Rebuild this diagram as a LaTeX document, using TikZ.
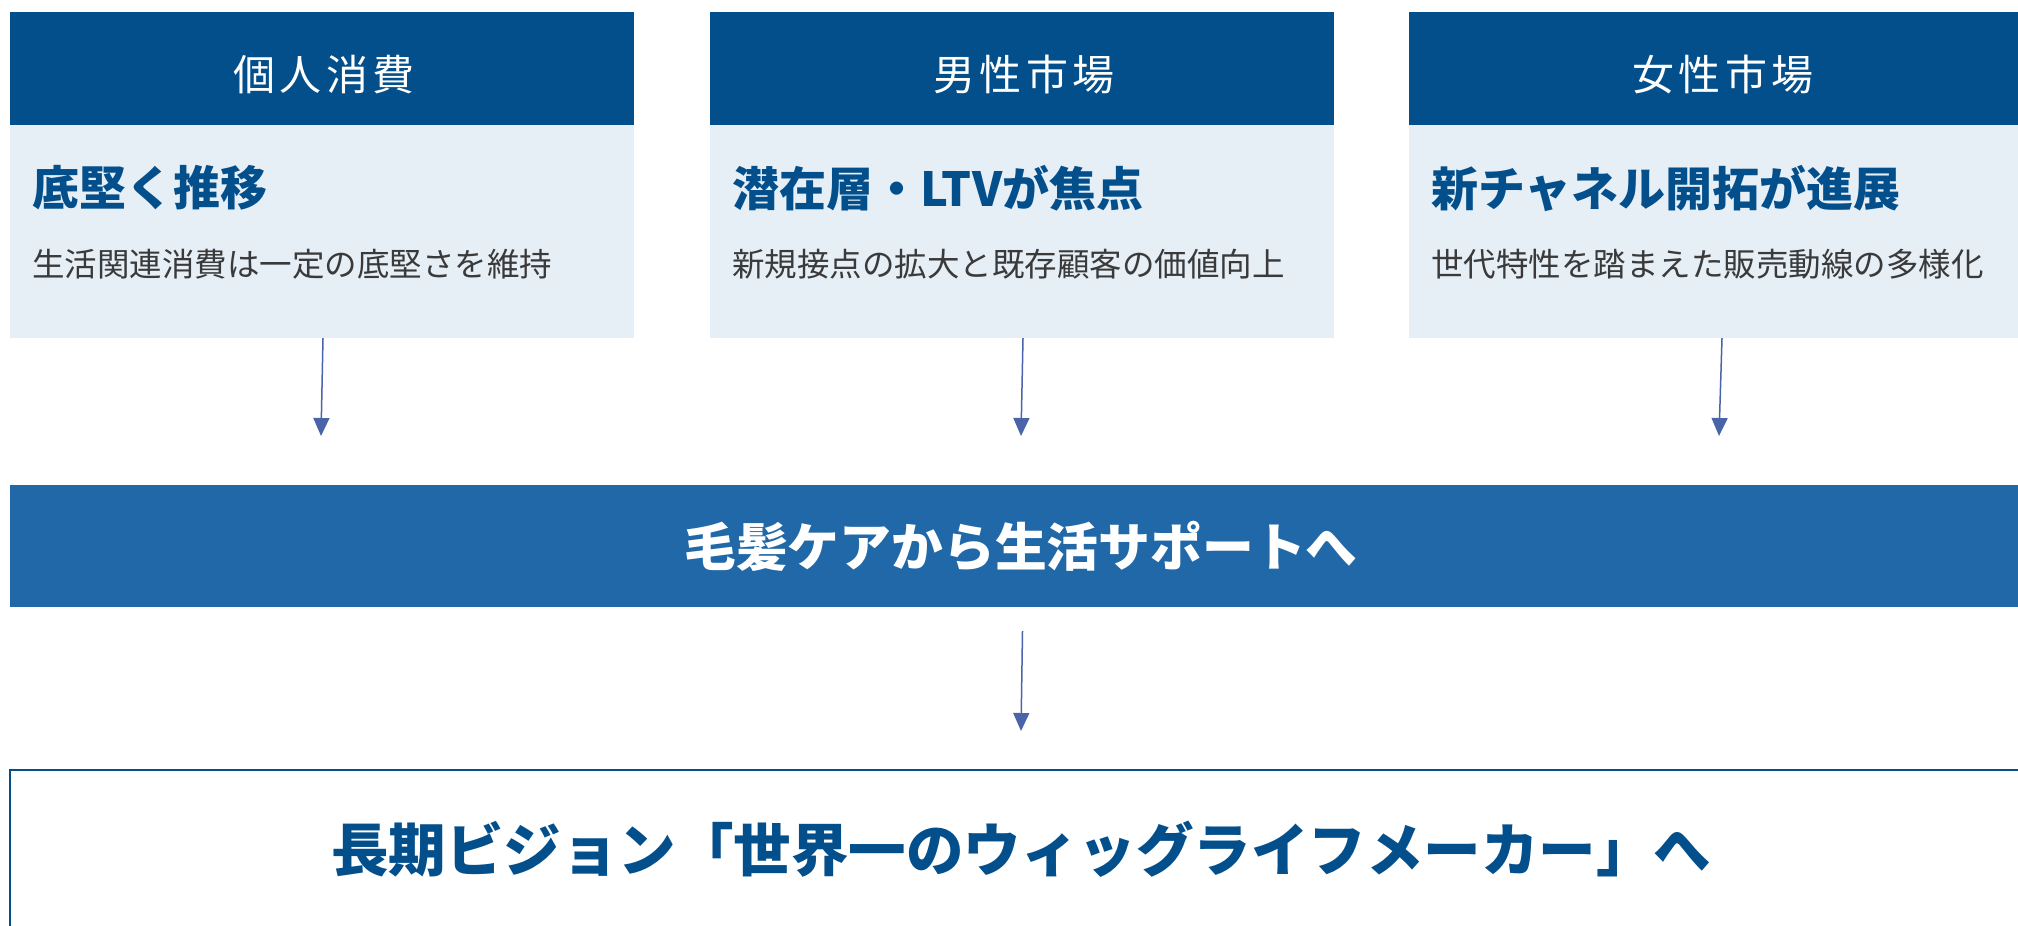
\documentclass[tikz,border=0pt]{standalone}
\usepackage{fontspec}
\setmainfont{Noto Sans CJK JP}
\usetikzlibrary{arrows.meta}
\definecolor{hdrblue}{HTML}{034F8C}
\definecolor{bodybg}{HTML}{E6EEF6}
\definecolor{bandblue}{HTML}{2068A8}
\definecolor{arrowc}{HTML}{4A64AA}
\definecolor{graytxt}{HTML}{3A3A3A}
\tikzset{
  hdrbox/.style={fill=hdrblue, draw=none, minimum width=624pt, minimum height=113pt, inner sep=0pt},
  bodybox/.style={fill=bodybg, draw=none, minimum width=624pt, minimum height=213pt, inner sep=0pt},
  hdrtxt/.style={text=white, font=\fontsize{42}{50}\selectfont\addfontfeature{LetterSpace=10}, inner sep=0pt},
  titletxt/.style={text=hdrblue, font=\bfseries\fontsize{47}{56}\selectfont, anchor=west, inner sep=0pt},
  subtxt/.style={text=graytxt, font=\fontsize{32.5}{39}\selectfont, anchor=west, inner sep=0pt},
  bandbox/.style={fill=bandblue, draw=none, minimum width=2023pt, minimum height=122pt, inner sep=0pt},
  bandtxt/.style={text=white, font=\bfseries\fontsize{51.8}{62}\selectfont, inner sep=0pt},
  visionbox/.style={draw=hdrblue, line width=2.5pt, fill=white, minimum width=2023pt, minimum height=158pt, inner sep=0pt},
  visiontxt/.style={text=hdrblue, font=\bfseries\fontsize{57.5}{69}\selectfont, inner sep=0pt},
  flow/.style={draw=arrowc, line width=1.5pt, -{Triangle[width=16pt,length=18pt]}}
}
\begin{document}
\begin{tikzpicture}[x=1pt,y=-1pt]
\useasboundingbox[fill=white] (0,0) rectangle (2018,926);
% column boxes
\foreach \i/\cx in {1/322,2/1022,3/1721}{
  \node[hdrbox] (h\i) at (\cx,68.5) {};
  \node[bodybox] (b\i) at (\cx,231.5) {};
}
\node[hdrtxt] (ht1) at (324,75) {個人消費};
\node[hdrtxt] (ht2) at (1024,75) {男性市場};
\node[hdrtxt] (ht3) at (1723,75) {女性市場};
\node[titletxt] (t1) at (32,188) {底堅く推移};
\node[titletxt] (t2) at (732,188) {潜在層・LTVが焦点};
\node[titletxt] (t3) at (1431,188) {新チャネル開拓が進展};
\node[subtxt] (s1) at (32,264) {生活関連消費は一定の底堅さを維持};
\node[subtxt] (s2) at (732,264) {新規接点の拡大と既存顧客の価値向上};
\node[subtxt] (s3) at (1431,264) {世代特性を踏まえた販売動線の多様化};
% band
\node[bandbox] (band) at (1021.5,546) {};
\node[bandtxt] (bandt) at (1021,546) {毛髪ケアから生活サポートへ};
% vision
\node[visionbox] (vis) at (1021.5,849) {};
\node[visiontxt] (vist) at (1021,849) {長期ビジョン「世界一のウィッグライフメーカー」へ};
% arrows
\coordinate (e1) at (321,436);
\coordinate (e2) at (1021,436);
\coordinate (e3) at (1719,436);
\draw[flow] ([xshift=1pt]b1.south) -- (e1);
\draw[flow] ([xshift=1pt]b2.south) -- (e2);
\draw[flow] ([xshift=1pt]b3.south) -- (e3);
\coordinate (e4) at (1021,731);
\draw[flow] ([yshift=-24pt,xshift=1pt]band.south) -- (e4);
\end{tikzpicture}
\end{document}
